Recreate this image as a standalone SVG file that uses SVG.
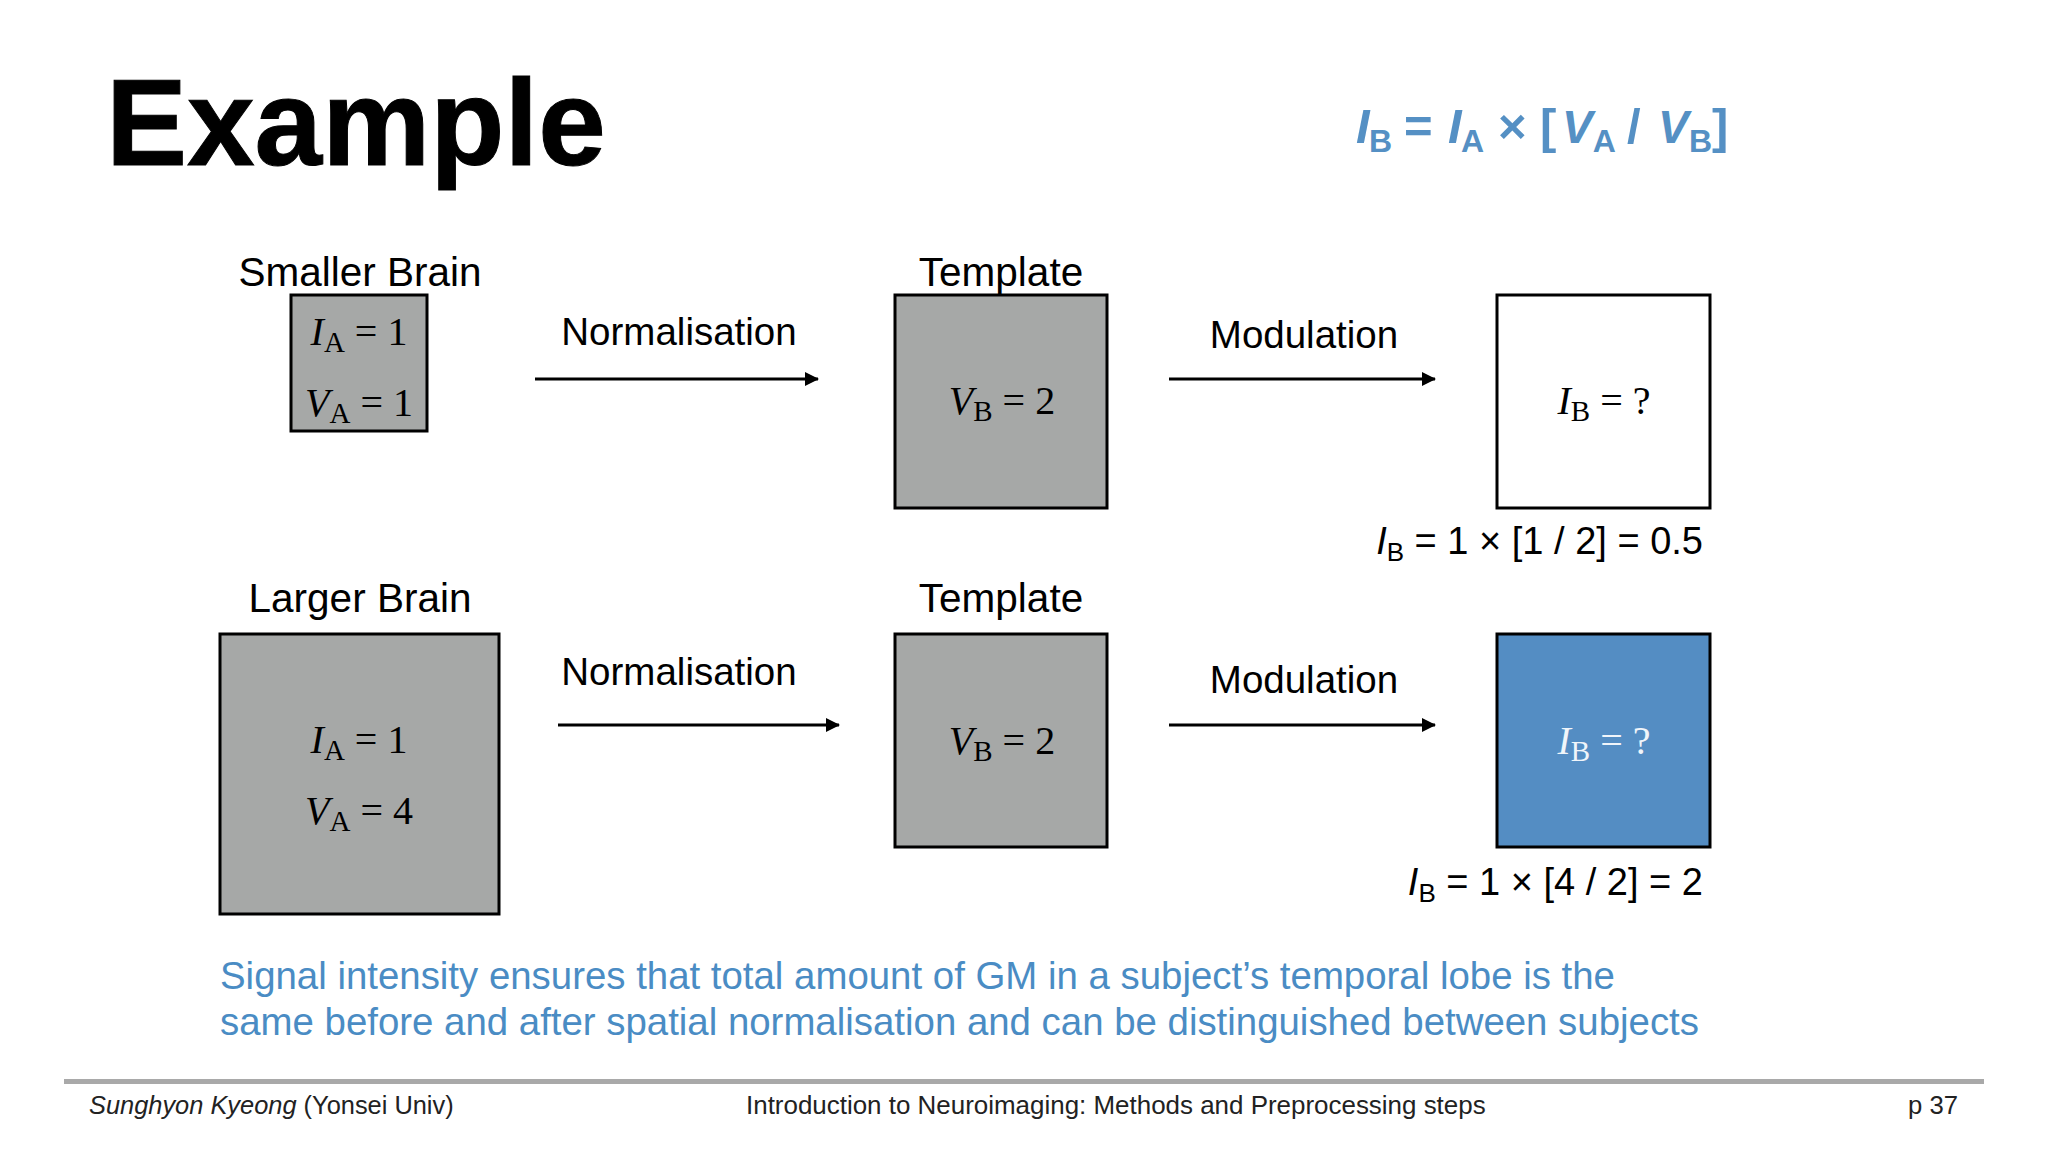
<svg xmlns="http://www.w3.org/2000/svg" width="2048" height="1152" viewBox="0 0 2048 1152">
<style>
text{font-family:"Liberation Sans",Arial,sans-serif;fill:#000}
.lab{font-size:40.5px;text-anchor:middle}
.lab2{font-size:38.5px;text-anchor:middle}
.m{font-family:"Liberation Serif","DejaVu Serif",serif;font-size:40px;text-anchor:middle}
.m .i{font-style:italic}
.s{font-size:29px}
.box{stroke:#000;stroke-width:3}
.g{fill:#a6a8a7}
.f{font-size:38px;text-anchor:end}
.b{font-size:38.4px;fill:#4a8cc4}
.foot{font-size:25.7px;fill:#222}
.c{stroke:#000;stroke-width:3;fill:none;marker-end:url(#a)}
.fm{font-size:49px;font-weight:700;fill:#5590c4}
.fm .sb{font-size:32px}
.fm .v{font-size:46px;font-style:italic}
</style>
<defs><marker id="a" markerUnits="userSpaceOnUse" markerWidth="14" markerHeight="16" refX="13" refY="8" orient="auto"><path d="M0 1L14 8L0 15Z" fill="#000"/></marker></defs>
<rect width="2048" height="1152" fill="#fff"/>
<text x="106" y="165" font-size="121.5" font-weight="700" stroke="#000" stroke-width="1">Example</text>
<text id="formula" class="fm" y="143"><tspan x="1356" font-style="italic">I</tspan><tspan class="sb" x="1369" y="152">B</tspan><tspan x="1404" y="143">=</tspan><tspan x="1448" font-style="italic">I</tspan><tspan class="sb" x="1461" y="152">A</tspan><tspan x="1498" y="143">×</tspan><tspan x="1540">[</tspan><tspan class="v" x="1562">V</tspan><tspan class="sb" x="1592.7" y="152">A</tspan><tspan x="1627" y="143">/</tspan><tspan class="v" x="1658">V</tspan><tspan class="sb" x="1689" y="152">B</tspan><tspan x="1712" y="143">]</tspan></text>
<g id="connectors">
<path class="c" d="M535 379H818"/><path class="c" d="M1169 379H1435"/>
<path class="c" d="M558 725H839"/><path class="c" d="M1169 725H1435"/>
</g>
<g id="n-smaller">
<text class="lab" x="360" y="286">Smaller Brain</text>
<rect class="box g" x="291" y="295" width="136" height="136"/>
<text class="m" x="359" y="345"><tspan class="i">I</tspan><tspan class="s" dy="7">A</tspan><tspan dy="-7"> = 1</tspan></text>
<text class="m" x="359" y="416"><tspan class="i">V</tspan><tspan class="s" dy="7">A</tspan><tspan dy="-7"> = 1</tspan></text>
</g>
<g id="n-template1">
<text class="lab" x="1001" y="286">Template</text>
<rect class="box g" x="895" y="295" width="212" height="213"/>
<text class="m" x="1002" y="414"><tspan class="i">V</tspan><tspan class="s" dy="7">B</tspan><tspan dy="-7"> = 2</tspan></text>
</g>
<g id="n-result1">
<rect class="box" fill="#fff" x="1497" y="295" width="213" height="213"/>
<text class="m" x="1604" y="414"><tspan class="i">I</tspan><tspan class="s" dy="7">B</tspan><tspan dy="-7"> = ?</tspan></text>
</g>
<text class="f" x="1703" y="554"><tspan font-style="italic">I</tspan><tspan font-size="26" dy="7">B</tspan><tspan dy="-7"> = 1 × [1 / 2] = 0.5</tspan></text>
<text class="lab2" x="679" y="345">Normalisation</text>
<text class="lab2" x="1304" y="348">Modulation</text>
<g id="n-larger">
<text class="lab" x="360" y="612">Larger Brain</text>
<rect class="box g" x="220" y="634" width="279" height="280"/>
<text class="m" x="359" y="753"><tspan class="i">I</tspan><tspan class="s" dy="7">A</tspan><tspan dy="-7"> = 1</tspan></text>
<text class="m" x="359" y="824"><tspan class="i">V</tspan><tspan class="s" dy="7">A</tspan><tspan dy="-7"> = 4</tspan></text>
</g>
<g id="n-template2">
<text class="lab" x="1001" y="612">Template</text>
<rect class="box g" x="895" y="634" width="212" height="213"/>
<text class="m" x="1002" y="754"><tspan class="i">V</tspan><tspan class="s" dy="7">B</tspan><tspan dy="-7"> = 2</tspan></text>
</g>
<g id="n-result2">
<rect class="box" fill="#548dc3" x="1497" y="634" width="213" height="213"/>
<text class="m" x="1604" y="754" style="fill:#f0f5fa"><tspan class="i">I</tspan><tspan class="s" dy="7">B</tspan><tspan dy="-7"> = ?</tspan></text>
</g>
<text class="f" x="1703" y="895"><tspan font-style="italic">I</tspan><tspan font-size="26" dy="7">B</tspan><tspan dy="-7"> = 1 × [4 / 2] = 2</tspan></text>
<text class="lab2" x="679" y="685">Normalisation</text>
<text class="lab2" x="1304" y="693">Modulation</text>
<text class="b" x="220" y="989">Signal intensity ensures that total amount of GM in a subject’s temporal lobe is the</text>
<text class="b" x="220" y="1035">same before and after spatial normalisation and can be distinguished between subjects</text>
<rect x="64" y="1079" width="1920" height="5" fill="#a9a9a9"/>
<text class="foot" x="89" y="1114" style="font-size:25.4px"><tspan font-style="italic">Sunghyon Kyeong</tspan> (Yonsei Univ)</text>
<text class="foot" x="746" y="1114" style="font-size:25.95px">Introduction to Neuroimaging: Methods and Preprocessing steps</text>
<text class="foot" x="1958" y="1114" text-anchor="end">p 37</text>
</svg>
